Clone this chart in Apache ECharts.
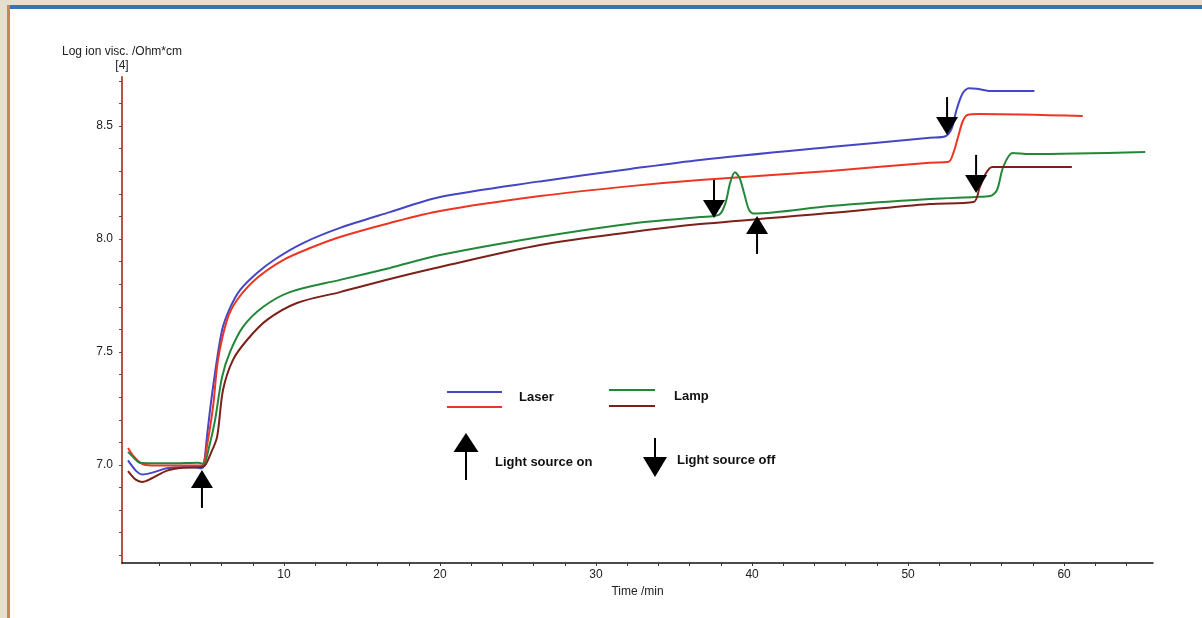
<!DOCTYPE html>
<html>
<head>
<meta charset="utf-8">
<script src="https://cdn.jsdelivr.net/npm/echarts@6/dist/echarts.min.js"></script>
<style>
  html, body { margin: 0; padding: 0; background: #fff; }
  #chart { width: 1202px; height: 618px; }
</style>
</head>
<body>
<div id="chart"></div>
<script>
// curves: [time /min, log ion visc.]
var laserBlue = [
  [0.0, 7.02], [0.5, 6.975], [0.9, 6.958], [1.5, 6.965], [2.5, 6.985], [3.5, 6.99],
  [4.3, 6.99], [4.7, 6.985], [4.85, 6.995], [5.1, 7.15], [5.45, 7.345], [6.03, 7.597],
  [6.54, 7.695], [7.18, 7.774], [8.27, 7.85], [9.55, 7.916], [11.22, 7.982], [13.59, 8.049],
  [16.79, 8.119], [20.0, 8.186], [26.41, 8.255], [32.2, 8.31], [36.67, 8.35], [45.0, 8.407],
  [51.4, 8.448], [52.4, 8.455], [52.8, 8.49], [53.1, 8.57], [53.5, 8.645], [53.9, 8.667],
  [54.4, 8.665], [55.3, 8.655], [58.1, 8.655]
];
var laserRed = [
  [0.0, 7.075], [0.4, 7.035], [0.9, 7.005], [1.5, 6.998], [3.0, 6.997], [4.5, 6.997],
  [4.8, 7.0], [5.1, 7.1], [5.45, 7.257], [5.77, 7.465], [6.35, 7.642], [6.99, 7.73],
  [8.27, 7.827], [9.94, 7.907], [11.67, 7.96], [13.59, 8.009], [16.79, 8.071], [20.0, 8.124],
  [26.41, 8.19], [32.2, 8.234], [36.67, 8.261], [45.0, 8.301], [51.4, 8.338], [52.6, 8.342],
  [52.9, 8.38], [53.2, 8.45], [53.5, 8.52], [53.8, 8.549], [54.6, 8.553], [61.2, 8.544]
];
var lampGreen = [
  [0.0, 7.058], [0.4, 7.03], [0.75, 7.01], [1.5, 7.008], [3.0, 7.008], [4.5, 7.01],
  [4.85, 7.005], [5.2, 7.08], [5.58, 7.199], [6.03, 7.389], [6.54, 7.5], [7.37, 7.611],
  [8.65, 7.699], [10.38, 7.765], [13.59, 7.819], [16.79, 7.872], [20.0, 7.929], [26.41, 8.009],
  [32.2, 8.068], [36.67, 8.097], [37.9, 8.108], [38.3, 8.16], [38.6, 8.25], [38.9, 8.295],
  [39.2, 8.27], [39.5, 8.2], [39.8, 8.13], [40.1, 8.113], [45.0, 8.146], [51.4, 8.177],
  [54.3, 8.186], [55.26, 8.19], [55.7, 8.217], [56.1, 8.319], [56.7, 8.381], [57.8, 8.376],
  [65.2, 8.385]
];
var lampBrown = [
  [0.0, 6.973], [0.5, 6.935], [0.9, 6.925], [1.5, 6.94], [2.5, 6.975], [3.5, 6.988],
  [4.5, 6.99], [4.9, 6.995], [5.3, 7.05], [5.71, 7.124], [6.09, 7.332], [6.73, 7.465],
  [7.63, 7.553], [8.91, 7.642], [10.83, 7.717], [13.59, 7.765], [16.79, 7.823], [20.0, 7.876],
  [26.41, 7.973], [32.2, 8.03], [36.67, 8.066], [45.0, 8.115], [51.4, 8.155], [54.2, 8.164],
  [54.6, 8.23], [55.0, 8.292], [55.4, 8.319], [60.5, 8.319]
];

// arrow tips: [time, value, 1 = light on (up), -1 = light off (down)]
var lightArrows = [
  [4.74, 6.978, 1], [37.56, 8.093, -1], [40.32, 8.102, 1], [52.5, 8.46, -1], [54.36, 8.204, -1]
];

var xTicks = [];
for (var t = 2; t <= 64; t += 2) xTicks.push(t);
var xLabels = [10, 20, 30, 40, 50, 60];
var yTicks = [];
for (var k = 66; k <= 87; k++) yTicks.push(k / 10);
var yLabels = [7.0, 7.5, 8.0, 8.5];

var font = "'Liberation Sans', Arial, sans-serif";
var chart = echarts.init(document.getElementById("chart"));

function arrowShapes(cx, tipY, dir, headH, headW, total) {
  var baseY = tipY + dir * headH;
  var endY = tipY + dir * total;
  return [
    {
      type: "polygon",
      shape: { points: [[cx, tipY], [cx - headW / 2, baseY], [cx + headW / 2, baseY]] },
      style: { fill: "#000" }
    },
    {
      type: "line",
      shape: { x1: cx, y1: baseY, x2: cx, y2: endY },
      style: { stroke: "#000", lineWidth: 2 }
    }
  ];
}

var lineStyle = function (c) {
  return { color: c, width: 2 };
};

var option = {
  backgroundColor: "#fff",
  animation: false,
  grid: { left: 122, top: 77, right: 49, bottom: 55 },
  xAxis: {
    type: "value",
    min: -0.385,
    max: 65.7,
    name: "Time /min",
    nameLocation: "middle",
    nameGap: 21,
    nameTextStyle: { fontFamily: font, fontSize: 12, color: "#222" },
    axisLine: { show: true, onZero: false, lineStyle: { color: "#111", width: 1.5 } },
    axisTick: { show: true, length: 3, customValues: xTicks, lineStyle: { color: "#333" } },
    axisLabel: {
      customValues: xLabels,
      fontFamily: font, fontSize: 12, color: "#222", margin: 6
    },
    splitLine: { show: false }
  },
  yAxis: {
    type: "value",
    min: 6.566,
    max: 8.717,
    name: "Log ion visc. /Ohm*cm\n[4]",
    nameLocation: "end",
    nameGap: 4,
    nameTextStyle: { fontFamily: font, fontSize: 12, color: "#222", align: "center", lineHeight: 14 },
    axisLine: { show: true, onZero: false, lineStyle: { color: "#b5553b", width: 2 } },
    axisTick: { show: true, length: 3, customValues: yTicks, lineStyle: { color: "#555" } },
    axisLabel: {
      customValues: yLabels,
      formatter: function (v) { return v.toFixed(1); },
      fontFamily: font, fontSize: 12, color: "#222", margin: 9
    },
    splitLine: { show: false }
  },
  series: [
    { name: "Laser", type: "line", data: laserBlue, showSymbol: false, smooth: 0.3, lineStyle: lineStyle("#4646c4"), z: 3 },
    { name: "Laser 2", type: "line", data: laserRed, showSymbol: false, smooth: 0.3, lineStyle: lineStyle("#ee3524"), z: 3 },
    { name: "Lamp", type: "line", data: lampGreen, showSymbol: false, smooth: 0.3, lineStyle: lineStyle("#23873a"), z: 3 },
    { name: "Lamp 2", type: "line", data: lampBrown, showSymbol: false, smooth: 0.3, lineStyle: lineStyle("#7c2119"), z: 3 },
    {
      type: "custom",
      data: lightArrows,
      encode: { x: 0, y: 1 },
      clip: false,
      z: 5,
      renderItem: function (params, api) {
        var p = api.coord([api.value(0), api.value(1)]);
        return { type: "group", children: arrowShapes(p[0], p[1], api.value(2), 18, 22, 38) };
      }
    }
  ],
  graphic: [
    // page frame
    { type: "rect", shape: { x: 0, y: 0, width: 1202, height: 5 }, style: { fill: "#e4e0cd" } },
    { type: "rect", shape: { x: 7, y: 5, width: 1195, height: 4 }, style: { fill: "#3a72b8" } },
    { type: "rect", shape: { x: 0, y: 0, width: 7, height: 618 }, style: { fill: "#e4e0cd" } },
    { type: "rect", shape: { x: 7, y: 5, width: 3, height: 613 }, style: { fill: "#c98553" } },
    // legend
    { type: "line", shape: { x1: 447, y1: 392, x2: 502, y2: 392 }, style: { stroke: "#4646c4", lineWidth: 2 } },
    { type: "line", shape: { x1: 447, y1: 407, x2: 502, y2: 407 }, style: { stroke: "#ee3524", lineWidth: 2 } },
    { type: "text", x: 519, y: 397, style: { text: "Laser", font: "bold 13px " + font, fill: "#111", verticalAlign: "middle" } },
    { type: "line", shape: { x1: 609, y1: 390, x2: 655, y2: 390 }, style: { stroke: "#23873a", lineWidth: 2 } },
    { type: "line", shape: { x1: 609, y1: 406, x2: 655, y2: 406 }, style: { stroke: "#7c2119", lineWidth: 2 } },
    { type: "text", x: 674, y: 396, style: { text: "Lamp", font: "bold 13px " + font, fill: "#111", verticalAlign: "middle" } },
    { type: "group", children: arrowShapes(466, 433, 1, 19, 25, 47) },
    { type: "text", x: 495, y: 462, style: { text: "Light source on", font: "bold 13px " + font, fill: "#111", verticalAlign: "middle" } },
    { type: "group", children: arrowShapes(655, 477, -1, 20, 24, 39) },
    { type: "text", x: 677, y: 460, style: { text: "Light source off", font: "bold 13px " + font, fill: "#111", verticalAlign: "middle" } }
  ]
};

chart.setOption(option);
</script>
</body>
</html>
